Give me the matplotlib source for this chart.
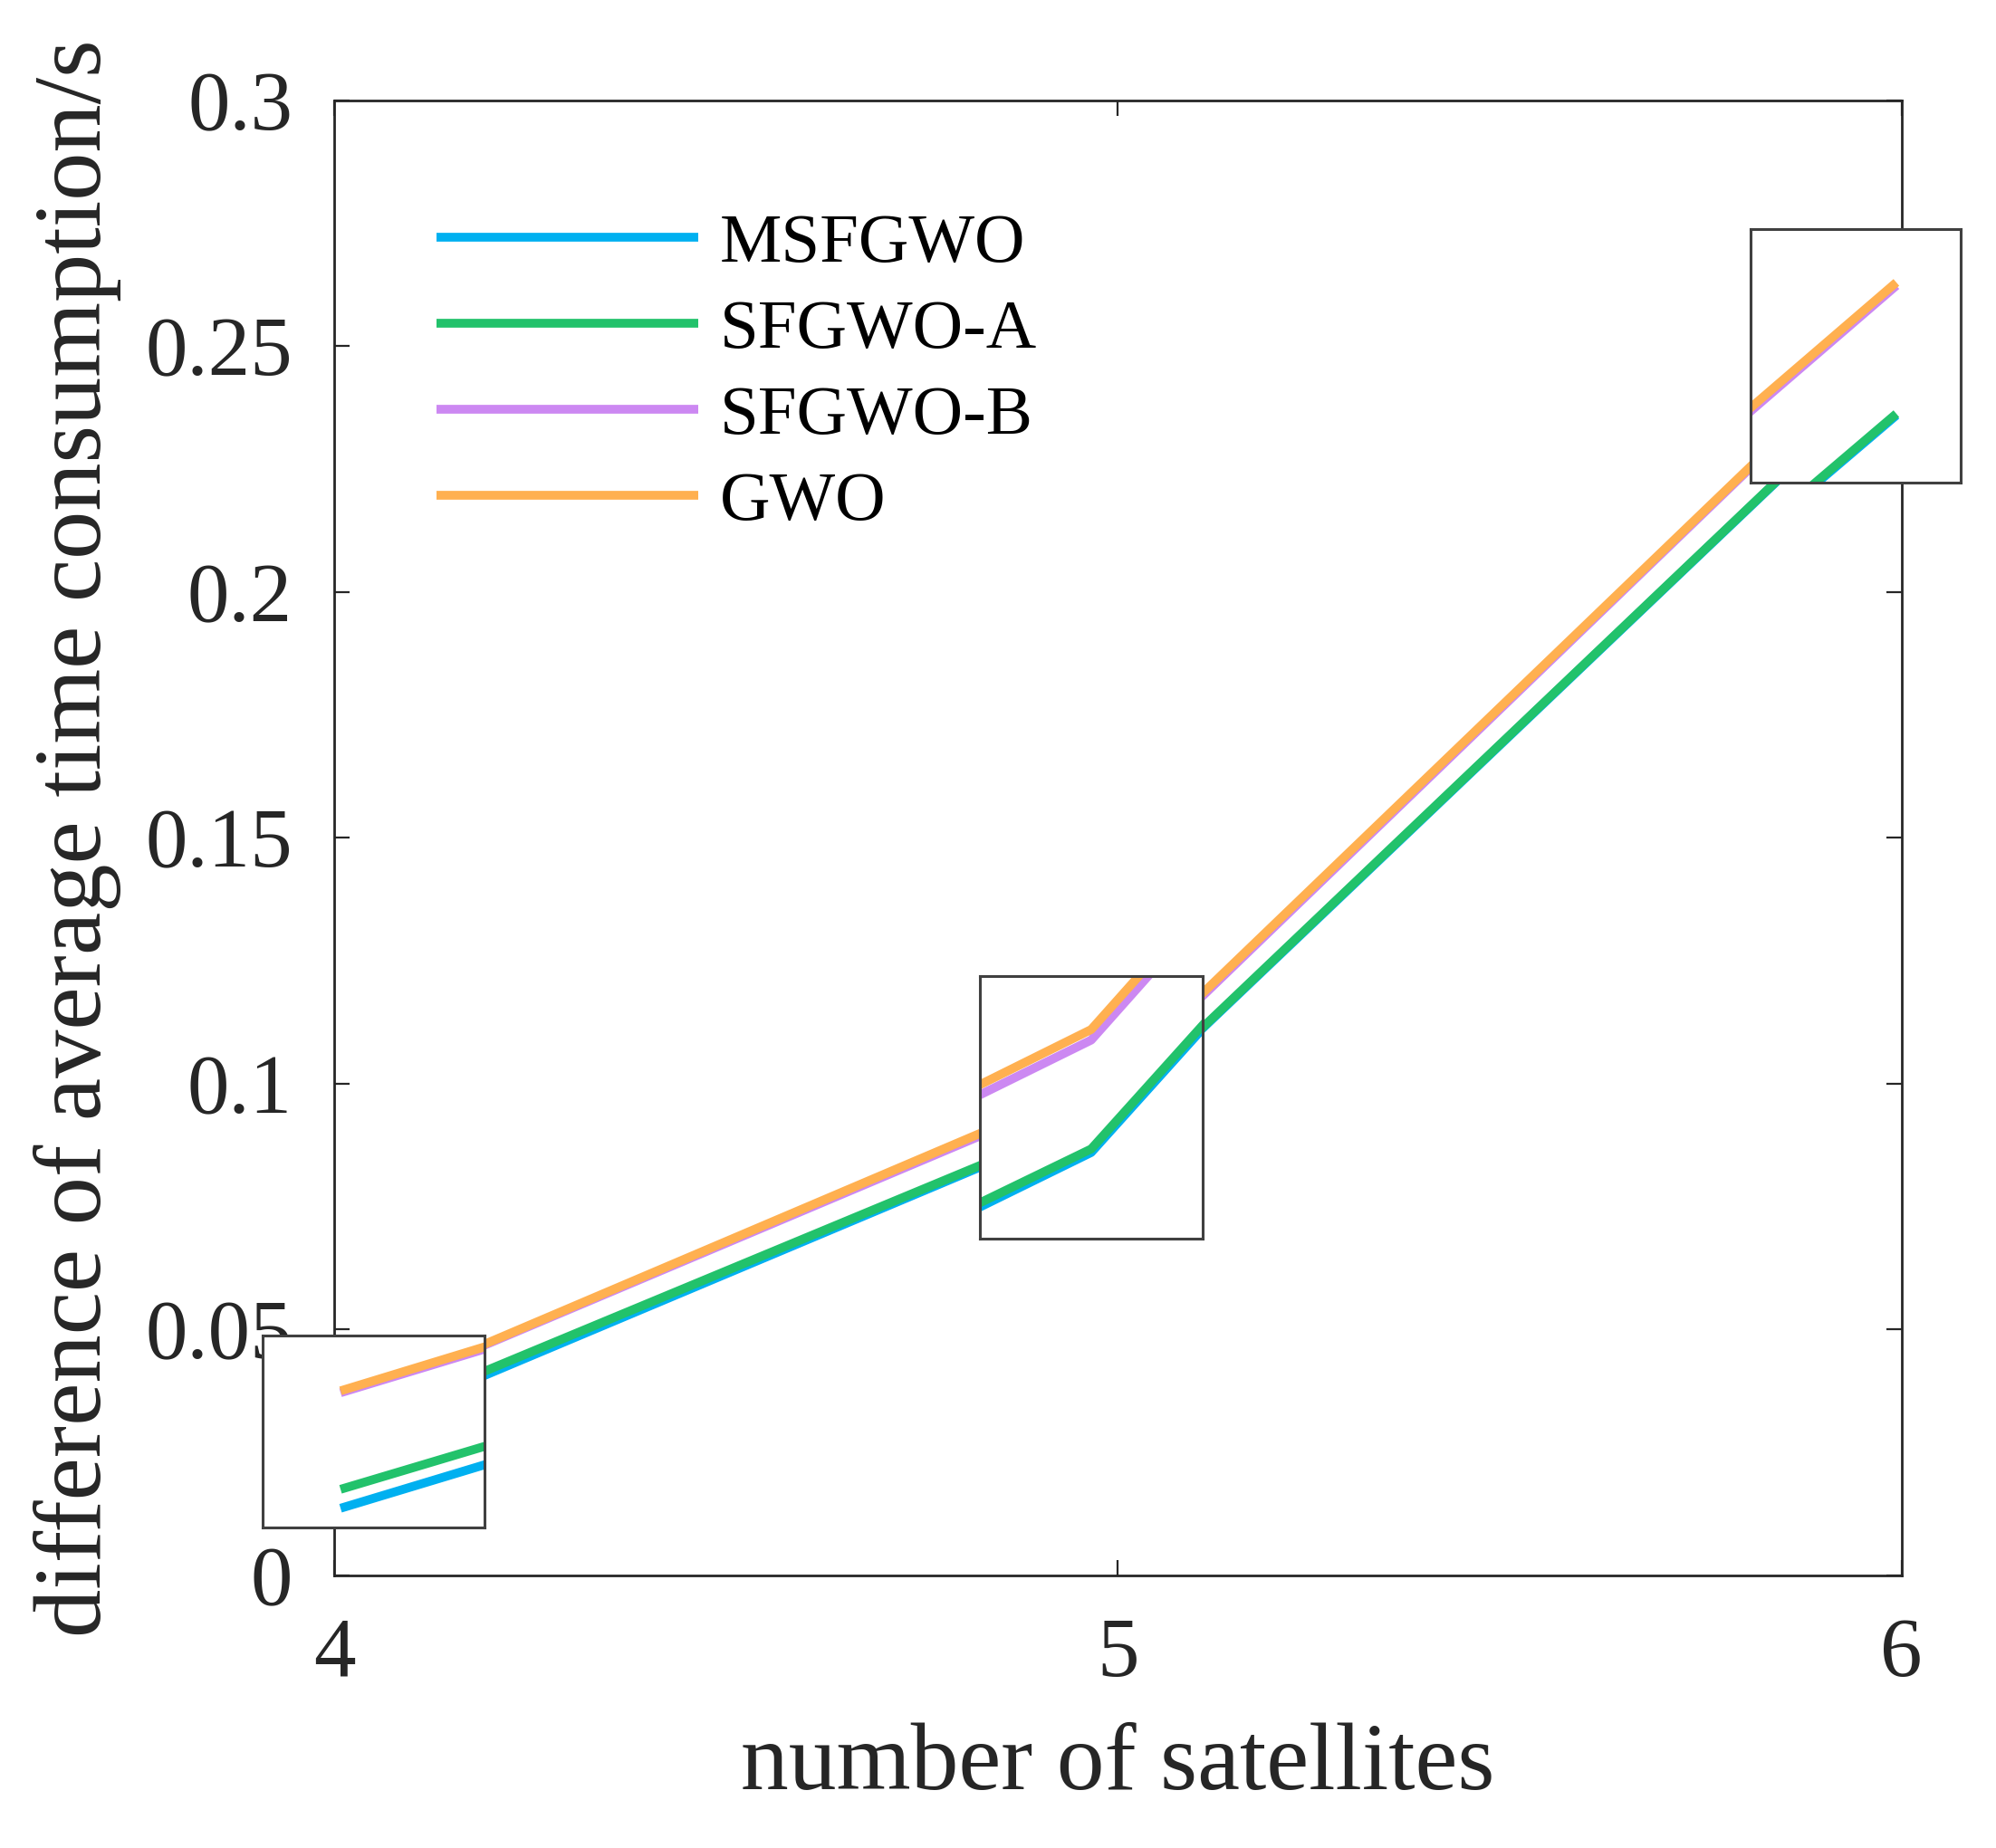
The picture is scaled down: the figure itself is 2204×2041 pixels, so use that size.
import numpy as np
import matplotlib.pyplot as plt

# -----------------------
# Data
# -----------------------
n_sat = [4, 5, 6]
msfgwo = [0.0278, 0.0948, 0.2466]
sfgwo_a = [0.0288, 0.0950, 0.2467]
sfgwo_b = [0.0339, 0.1012, 0.2548]
gwo = [0.0340, 0.1018, 0.2550]

labels = ["MSFGWO", "SFGWO-A", "SFGWO-B", "GWO"]
colors = ["#00b0f0", "#22c26b", "#cc88f2", "#ffb050"]
yticks = [0, 0.05, 0.1, 0.15, 0.2, 0.25, 0.3]
ytick_labels = ["0", "0.05", "0.1", "0.15", "0.2", "0.25", "0.3"]

plt.rcParams["font.family"] = ["Liberation Serif", "DejaVu Serif"]

series = [msfgwo, sfgwo_a, sfgwo_b, gwo]
dark = "#262626"
lw = 3.5

# -----------------------
# Main axes
# -----------------------
fig = plt.figure(figsize=(11.02, 10.205), dpi=200)
ax = fig.add_axes([0.1674, 0.1475, 0.7852, 0.7983])

for ys, lab, c in zip(series, labels, colors):
    ax.plot(n_sat, ys, color=c, lw=lw, label=lab, solid_capstyle="butt")

ax.set_xlim(4, 6)
ax.set_ylim(0, 0.3)
ax.set_xticks(n_sat)
ax.set_yticks(yticks)
ax.set_yticklabels(ytick_labels)
ax.tick_params(direction="in", length=6, width=0.8, labelsize=33.5, pad=16.5,
               top=True, right=True, color=dark, labelcolor=dark)
for sp in ax.spines.values():
    sp.set_color(dark)
    sp.set_linewidth(1.0)

ax.set_xlabel("number of satellites", fontsize=38, color=dark)
ax.set_ylabel("difference of average time consumption/s", fontsize=38.3, color=dark)
ax.xaxis.set_label_coords(0.5, -0.0995)
ax.yaxis.set_label_coords(-0.1356, 0.5)

ax.legend(loc="upper left", bbox_to_anchor=(0.2187, 0.885),
          bbox_transform=fig.transFigure, frameon=False, fontsize=27.7,
          handlelength=3.75, handletextpad=0.32, labelspacing=0.33,
          borderpad=0, borderaxespad=0)

# -----------------------
# Zoom insets
# -----------------------
insets = [
    ([0.1316, 0.1734, 0.1112, 0.1039], (3.98147, 4.03427), (0.02678, 0.03692)),
    ([0.4909, 0.3297, 0.1116, 0.1421], (4.9536, 5.0464), (0.08989, 0.10484)),
    ([0.8770, 0.7389, 0.1053, 0.1372], (5.94823, 6.02283), (0.24235, 0.25838)),
]
for rect, xl, yl in insets:
    axi = fig.add_axes(rect)
    axi.set_facecolor("white")
    for ys, c in zip(series, colors):
        axi.plot(n_sat, ys, color=c, lw=lw, solid_capstyle="butt")
    axi.set_xlim(*xl)
    axi.set_ylim(*yl)
    axi.set_xticks([])
    axi.set_yticks([])
    for sp in axi.spines.values():
        sp.set_color("#404040")
        sp.set_linewidth(1.1)

fig.savefig("out.png", dpi=200)
